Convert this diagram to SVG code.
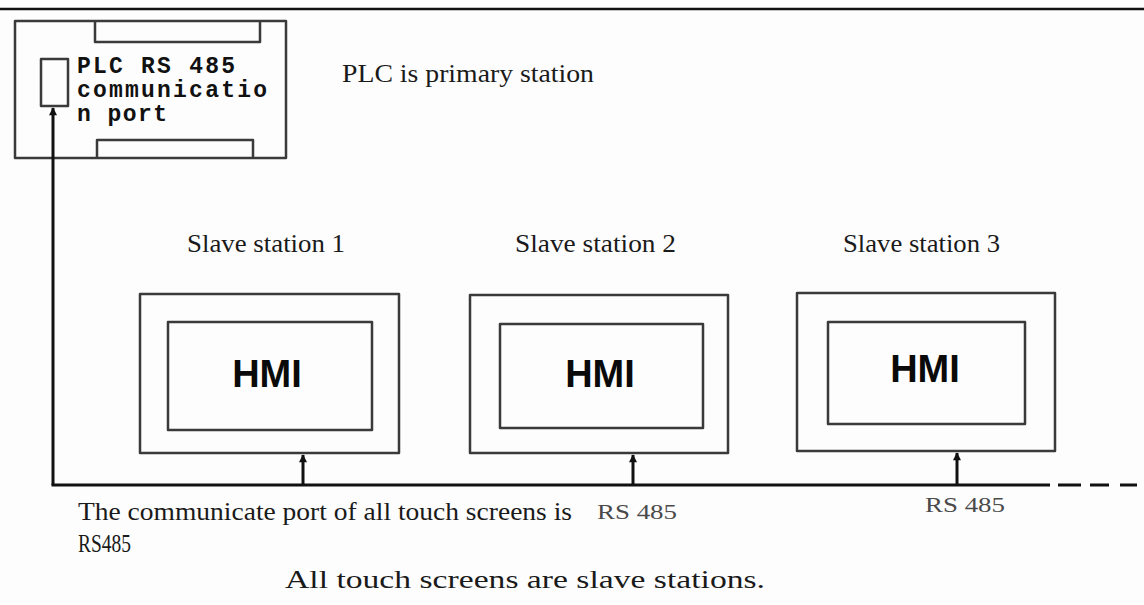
<svg xmlns="http://www.w3.org/2000/svg" width="1144" height="605" viewBox="0 0 1144 605">
<style>
.box{fill:none;stroke:#3a3a3a;stroke-width:2.5;stroke-linejoin:round}
.wire{fill:none;stroke:#111;stroke-width:3}
.serif{font-family:"Liberation Serif","Times New Roman",serif;font-size:26px;fill:#1a1a1a}
.mono{font-family:"Liberation Mono","Courier New",monospace;font-size:23px;font-weight:bold;fill:#111}
.hmi{font-family:"Liberation Sans",Arial,sans-serif;font-size:38px;font-weight:bold;fill:#0a0a0a;text-anchor:middle}
.rs{font-family:"Liberation Serif","Times New Roman",serif;font-size:21px;fill:#4a4a4a}
</style>
<defs>
<marker id="arr" viewBox="0 0 10 10" refX="9" refY="5" markerWidth="9" markerHeight="8" markerUnits="userSpaceOnUse" orient="auto">
<path d="M0,0 L10,5 L0,10 z" fill="#111"/>
</marker>
</defs>
<rect x="0" y="0" width="1144" height="605" fill="#fdfdfd"/>
<line x1="0" y1="9" x2="1144" y2="9" stroke="#111" stroke-width="2.5"/>

<g id="plc">
<rect class="box" x="15" y="21" width="271" height="137"/>
<path class="box" d="M95,21 V42 H260 V21"/>
<path class="box" d="M97,158 V140 H253 V158"/>
<rect class="box" x="41" y="59" width="27" height="47"/>
<text class="mono" x="77" y="73" textLength="158" lengthAdjust="spacing">PLC RS 485</text>
<text class="mono" x="77" y="97" textLength="190" lengthAdjust="spacing">communicatio</text>
<text class="mono" x="77" y="121" textLength="90" lengthAdjust="spacing">n port</text>
</g>
<text class="serif" x="342" y="82" textLength="252" lengthAdjust="spacingAndGlyphs">PLC is primary station</text>

<g id="slave1">
<text class="serif" x="187" y="252" textLength="158" lengthAdjust="spacingAndGlyphs">Slave station 1</text>
<rect class="box" x="140" y="294" width="259" height="159"/>
<rect class="box" x="168" y="322" width="204" height="108"/>
<text class="hmi" x="267" y="387">HMI</text>
</g>
<g id="slave2">
<text class="serif" x="515" y="252" textLength="161" lengthAdjust="spacingAndGlyphs">Slave station 2</text>
<rect class="box" x="470" y="295" width="258" height="158"/>
<rect class="box" x="500" y="324" width="203" height="104"/>
<text class="hmi" x="600" y="387">HMI</text>
</g>
<g id="slave3">
<text class="serif" x="843" y="252" textLength="157" lengthAdjust="spacingAndGlyphs">Slave station 3</text>
<rect class="box" x="797" y="293" width="258" height="158"/>
<rect class="box" x="828" y="322" width="197" height="102"/>
<text class="hmi" x="925" y="382">HMI</text>
</g>

<g id="connectors">
<path class="wire" d="M53,485 V108" marker-end="url(#arr)"/>
<line class="wire" x1="51.5" y1="485" x2="1050" y2="485"/>
<path class="wire" d="M1058,485 H1081 M1090,485 H1109 M1120,485 H1137"/>
<path class="wire" d="M303,485 V455" marker-end="url(#arr)"/>
<path class="wire" d="M633,485 V455" marker-end="url(#arr)"/>
<path class="wire" d="M957,485 V453" marker-end="url(#arr)"/>
</g>

<text class="serif" x="78" y="520" textLength="494" lengthAdjust="spacingAndGlyphs">The communicate port of all touch screens is</text>
<text class="serif" x="78" y="552" textLength="53" lengthAdjust="spacingAndGlyphs">RS485</text>
<text class="rs" x="597" y="519" textLength="80" lengthAdjust="spacingAndGlyphs">RS 485</text>
<text class="rs" x="925" y="512" textLength="80" lengthAdjust="spacingAndGlyphs">RS 485</text>
<text class="serif" x="285" y="588" textLength="480" lengthAdjust="spacingAndGlyphs">All touch screens are slave stations.</text>
</svg>
